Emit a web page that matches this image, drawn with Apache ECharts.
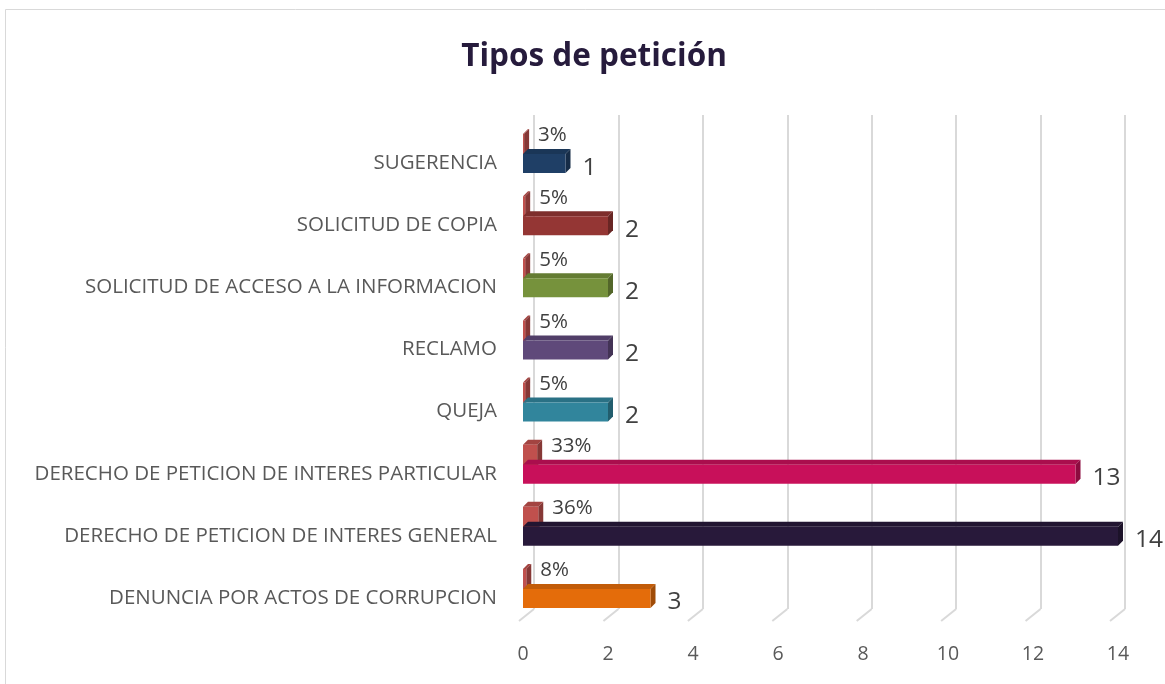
<!DOCTYPE html>
<html>
<head>
<meta charset="utf-8">
<title>Tipos de petición</title>
<script src="https://cdn.jsdelivr.net/npm/echarts@6/dist/echarts.min.js"></script>
<style>
    html, body {margin: 0; padding: 0; background: #fff;}
    #chart {width: 1165px; height: 684px;}
</style>
</head>
<body>
<div id="chart"></div>
<script>
// datos, de abajo hacia arriba como en el eje
var categories = [
    'DENUNCIA POR ACTOS DE CORRUPCION',
    'DERECHO DE PETICION DE INTERES GENERAL',
    'DERECHO DE PETICION DE INTERES PARTICULAR',
    'QUEJA',
    'RECLAMO',
    'SOLICITUD DE ACCESO A LA INFORMACION',
    'SOLICITUD DE COPIA',
    'SUGERENCIA'
];
var counts = [3, 14, 13, 2, 2, 2, 2, 1];
var shares = [0.077, 0.359, 0.333, 0.051, 0.051, 0.051, 0.051, 0.026];
var barColors = ['#e46c0a', '#28193a', '#c8105a', '#31859c', '#5f497a', '#76923c', '#943634', '#1f3f66'];
var shareColor = '#c0504d';
var xTicks = [0, 2, 4, 6, 8, 10, 12, 14];

var FONT = 'Open Sans';
var myChart = echarts.init(document.getElementById('chart'));

var darken = function (c, k) {
    return echarts.color.lerp(k, [c, '#000000']);
};

// barra con cara superior y lateral para simular el 3D
var bar3d = function (top, height, colorOf, labelOf, labelDx, labelDy, labelSize) {
    return function (params, api) {
        var val = api.value(0), cat = api.value(1);
        var p0 = api.coord([0, cat]);
        var p1 = api.coord([val, cat]);
        var d = 5;
        var x0 = p0[0], x1 = p1[0];
        var y0 = p0[1] + top, y1 = y0 + height;
        var c = colorOf(params.dataIndex);
        return {
            type: 'group',
            children: [{
                type: 'polygon',
                shape: {points: [[x0, y0], [x1, y0], [x1 + d, y0 - d], [x0 + d, y0 - d]]},
                style: {fill: darken(c, 0.15)}
            }, {
                type: 'polygon',
                shape: {points: [[x1, y0], [x1 + d, y0 - d], [x1 + d, y1 - d], [x1, y1]]},
                style: {fill: darken(c, 0.3)}
            }, {
                type: 'rect',
                shape: {x: x0, y: y0, width: Math.max(x1 - x0, 0.5), height: height},
                style: {fill: c}
            }, {
                type: 'text',
                style: {
                    text: labelOf(val),
                    x: x1 + d + labelDx,
                    y: (labelDy === null ? (y0 + y1) / 2 + 4 : y0 + labelDy),
                    verticalAlign: 'middle',
                    align: 'left',
                    fill: '#404040',
                    fontSize: labelSize,
                    fontFamily: FONT
                }
            }]
        };
    };
};

var option = {
    backgroundColor: '#fff',
    animation: false,
    title: {
        text: 'Tipos de petición',
        left: 589,
        textAlign: 'center',
        top: 36,
        textStyle: {fontSize: 31.5, fontWeight: 'bold', color: '#261b3c', fontFamily: FONT}
    },
    graphic: [{
        type: 'rect',
        shape: {x: 5.5, y: 9.5, width: 1200, height: 700},
        style: {fill: 'none', stroke: '#d9d9d9', lineWidth: 1},
        silent: true
    }],
    grid: [
        {left: 523, right: 47, top: 132, bottom: 55},
        // pared del fondo
        {left: 534, right: 40, top: 115, bottom: 75}
    ],
    xAxis: [{
        gridIndex: 0,
        type: 'value',
        min: 0,
        max: 14,
        interval: 2,
        axisLine: {show: false},
        axisTick: {show: false},
        splitLine: {show: false},
        axisLabel: {color: '#595959', fontSize: 19.5, fontFamily: FONT, margin: 15}
    }, {
        gridIndex: 1,
        type: 'value',
        min: 0,
        max: 14,
        interval: 2,
        axisLine: {show: false},
        axisTick: {show: false},
        axisLabel: {show: false},
        splitLine: {lineStyle: {color: '#d9d9d9', width: 2}}
    }],
    yAxis: [{
        gridIndex: 0,
        type: 'category',
        data: categories,
        axisLine: {show: false},
        axisTick: {show: false},
        splitLine: {show: false},
        axisLabel: {color: '#595959', fontSize: 20.5, fontFamily: FONT, margin: 26}
    }, {
        gridIndex: 1,
        type: 'value',
        min: 0,
        max: 1,
        show: false
    }],
    series: [{
        // lineas del piso
        type: 'custom',
        xAxisIndex: 1,
        yAxisIndex: 1,
        silent: true,
        data: xTicks.map(function (v) { return [v, 0]; }),
        renderItem: function (params, api) {
            var p = api.coord([api.value(0), 0]);
            return {
                type: 'line',
                shape: {x1: p[0], y1: p[1], x2: p[0] - 15, y2: p[1] + 12},
                style: {stroke: '#d9d9d9', lineWidth: 2}
            };
        }
    }, {
        name: 'Porcentaje',
        type: 'custom',
        xAxisIndex: 0,
        yAxisIndex: 0,
        data: shares.map(function (v, i) { return [v, i]; }),
        renderItem: bar3d(-29, 21, function () { return shareColor; }, function (v) {
            return Math.round(v * 100) + '%';
        }, 9, 1.5, 20.5)
    }, {
        name: 'Cantidad',
        type: 'custom',
        xAxisIndex: 0,
        yAxisIndex: 0,
        data: counts.map(function (v, i) { return [v, i]; }),
        renderItem: bar3d(-9, 19, function (i) { return barColors[i]; }, function (v) {
            return String(v);
        }, 12, null, 24.5)
    }]
};
myChart.setOption(option);
</script>
</body>
</html>
